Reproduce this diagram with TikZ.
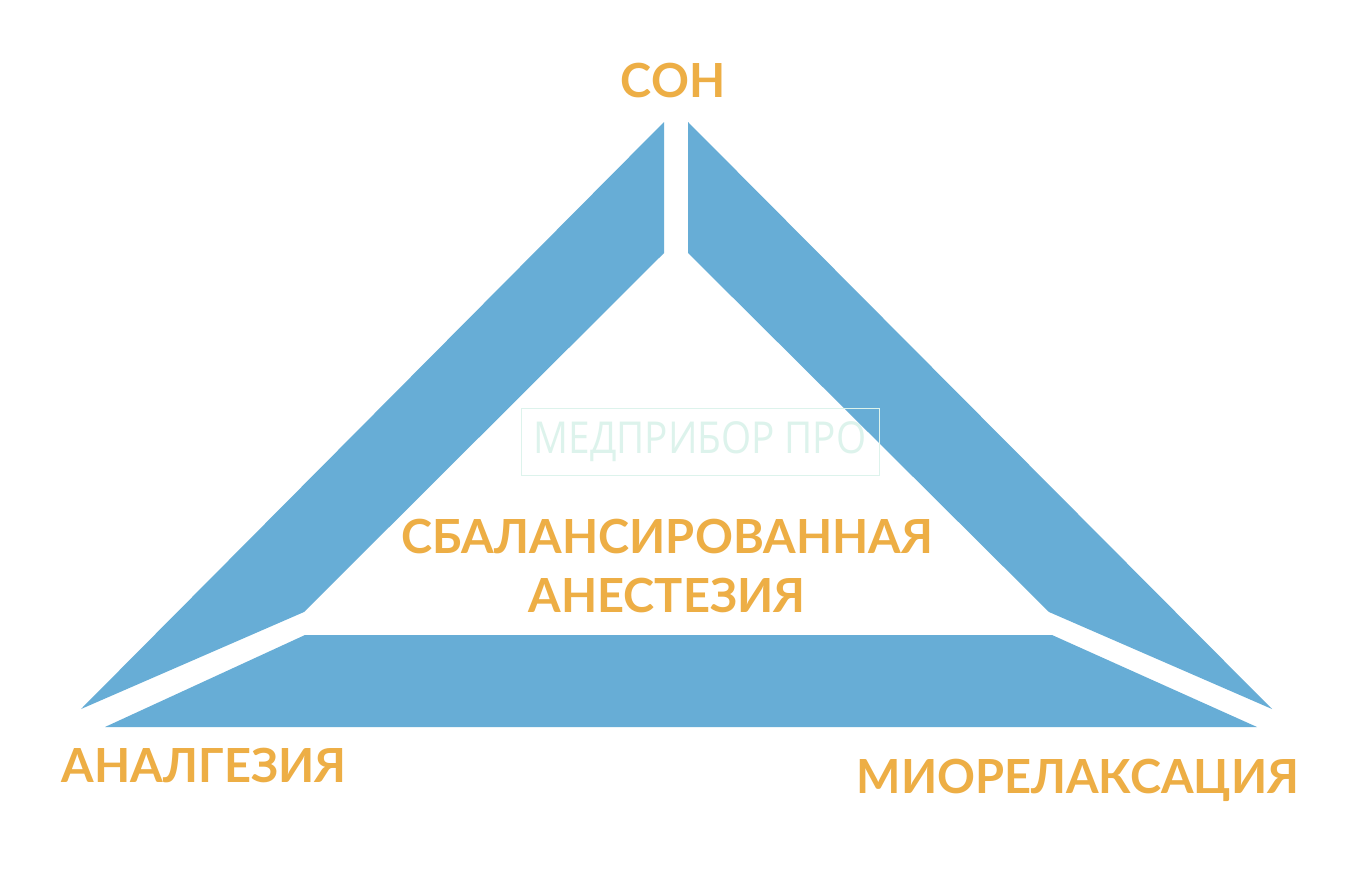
\documentclass[tikz,border=0pt]{standalone}
\usepackage{fontspec}
\setmainfont{Lato}
\newfontfamily\markfont{Open Sans}[FakeStretch=0.88]
\definecolor{bleu}{HTML}{67ADD6}
\definecolor{ocre}{HTML}{EDAE45}
\definecolor{menthe}{HTML}{DDF3EC}
\begin{document}
\begin{tikzpicture}[x=1pt, y=-1pt,
  bande/.style={fill=bleu},
  etiq/.style={text=ocre, anchor=base, inner sep=0pt, font=\bfseries\fontsize{47}{52}\selectfont}]
\useasboundingbox[fill=white] (0,0) rectangle (1352,892);
% les trois bandes
\fill[bande] (664,122) -- (664,253) -- (304,612) -- (81,709) -- cycle;
\fill[bande] (688,122) -- (688,253) -- (1049,612) -- (1272,709) -- cycle;
\fill[bande] (305,635) -- (1052,635) -- (1257,727) -- (105,727) -- cycle;
% filigrane
\node[draw=menthe, text=menthe, minimum width=358, minimum height=67, font=\markfont\fontsize{44}{44}\selectfont] (marque) at (700,442) {МЕДПРИБОР ПРО};
% sommets
\node[etiq] (son) at (673,97) {СОН};
\node[etiq] (analg) at (204,782) {АНАЛГЕЗИЯ};
\node[etiq] (miorel) at (1078,793) {МИОРЕЛАКСАЦИЯ};
\node[etiq] (balans) at (667,553) {СБАЛАНСИРОВАННАЯ};
\node[etiq] (anest) at (667,612) {АНЕСТЕЗИЯ};
\end{tikzpicture}
\end{document}
